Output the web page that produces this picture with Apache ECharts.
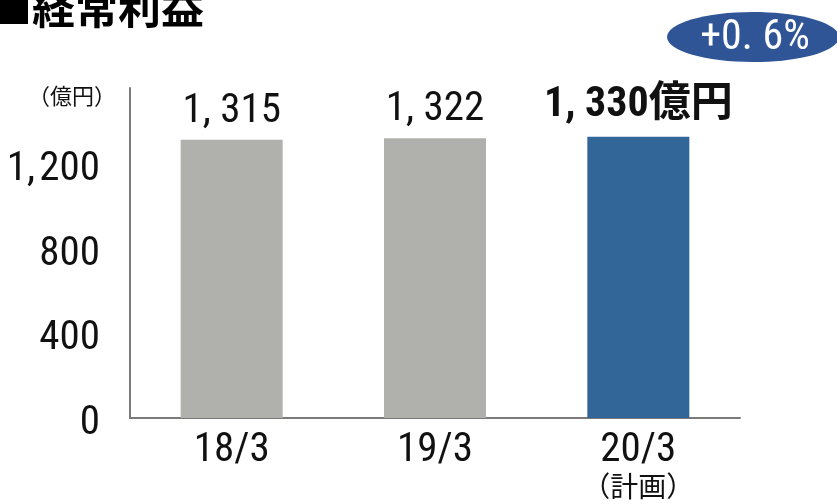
<!DOCTYPE html>
<html>
<head>
<meta charset="utf-8">
<script src="https://cdn.jsdelivr.net/npm/echarts@6/dist/echarts.min.js"></script>
<style>
  html, body { margin: 0; padding: 0; background: #fff; }
  #chart { width: 837px; height: 504px; }
</style>
</head>
<body>
<div id="chart"></div>
<script>
// 経常利益 (億円)
const categories = ['18/3', '19/3', '20/3'];
const categorySubLabels = ['', '', '（計画）'];
const profitValues = [1315, 1322, 1330];
const valueLabels = ['1, 315', '1, 322', '1, 330億円'];
const tickValues = [0, 400, 800, 1200];
const tickLabels = ['0', '400', '800', '1,\u200A200'];
const growthText = '+0. 6%';

// Condensed Roboto for numerals, CJK fallback for kanji
const FAMILY = "Roboto, 'Noto Sans CJK JP', sans-serif";
const STRETCH = 'condensed';
const GRAY = '#B0B1AC';
const BLUE = '#326699';

const chart = echarts.init(document.getElementById('chart'));

const barData = profitValues.map((v, i) => {
  const isPlan = i === profitValues.length - 1;
  return {
    value: v,
    itemStyle: { color: isPlan ? BLUE : GRAY },
    label: {
      show: true,
      position: 'top',
      distance: isPlan ? 10 : 8,
      formatter: valueLabels[i],
      fontFamily: FAMILY,
      fontStyle: STRETCH,
      fontSize: isPlan ? 42 : 41,
      fontWeight: isPlan ? 'bold' : 'normal',
      color: '#111'
    }
  };
});

chart.setOption({
  animation: false,
  grid: { left: 130, right: 97, top: 88, bottom: 86, containLabel: false, outerBoundsMode: 'none' },
  xAxis: {
    type: 'category',
    data: categories,
    axisLine: { lineStyle: { color: '#7a7a7a', width: 2 } },
    axisTick: { show: false },
    axisLabel: {
      interval: 0,
      margin: 14,
      lineHeight: 38,
      formatter: (val, idx) => categorySubLabels[idx] ? val + '\n{sub|' + categorySubLabels[idx] + '}' : val,
      fontFamily: FAMILY,
      fontStyle: STRETCH,
      fontSize: 41,
      color: '#111',
      rich: {
        sub: { fontFamily: FAMILY, fontStyle: STRETCH, fontSize: 28, color: '#111', lineHeight: 40 }
      }
    }
  },
  yAxis: {
    type: 'value',
    min: 0,
    max: 1560,
    interval: 400,
    splitLine: { show: false },
    axisTick: { show: false },
    axisLine: { show: true, lineStyle: { color: '#7a7a7a', width: 2 } },
    axisLabel: {
      margin: 30,
      fontFamily: FAMILY,
      fontStyle: STRETCH,
      fontSize: 41,
      color: '#111',
      verticalAlign: 'top',
      padding: [-15, 0, 0, 0],
      formatter: v => {
        const k = tickValues.indexOf(v);
        return k >= 0 ? tickLabels[k] : '';
      }
    }
  },
  series: [{
    type: 'bar',
    barWidth: 102,
    data: barData
  }],
  graphic: [
    { type: 'rect', shape: { x: 0, y: 0, width: 28, height: 24 }, style: { fill: '#000' } },
    {
      type: 'text', left: 32, top: -14,
      style: { text: '経常利益', font: "bold 43px 'Noto Sans CJK JP', sans-serif", fill: '#000' }
    },
    {
      type: 'text', left: 28, top: 85,
      style: { text: '（億円）', font: "22px 'Noto Sans CJK JP', sans-serif", fill: '#111' }
    },
    {
      type: 'ellipse',
      shape: { cx: 753, cy: 37, rx: 86, ry: 25 },
      style: { fill: '#2F5597' }
    },
    {
      type: 'text', x: 755, y: 38,
      style: {
        text: growthText, fill: '#fff', align: 'center', verticalAlign: 'middle',
        font: "condensed 42px " + FAMILY
      }
    }
  ]
});
</script>
</body>
</html>
